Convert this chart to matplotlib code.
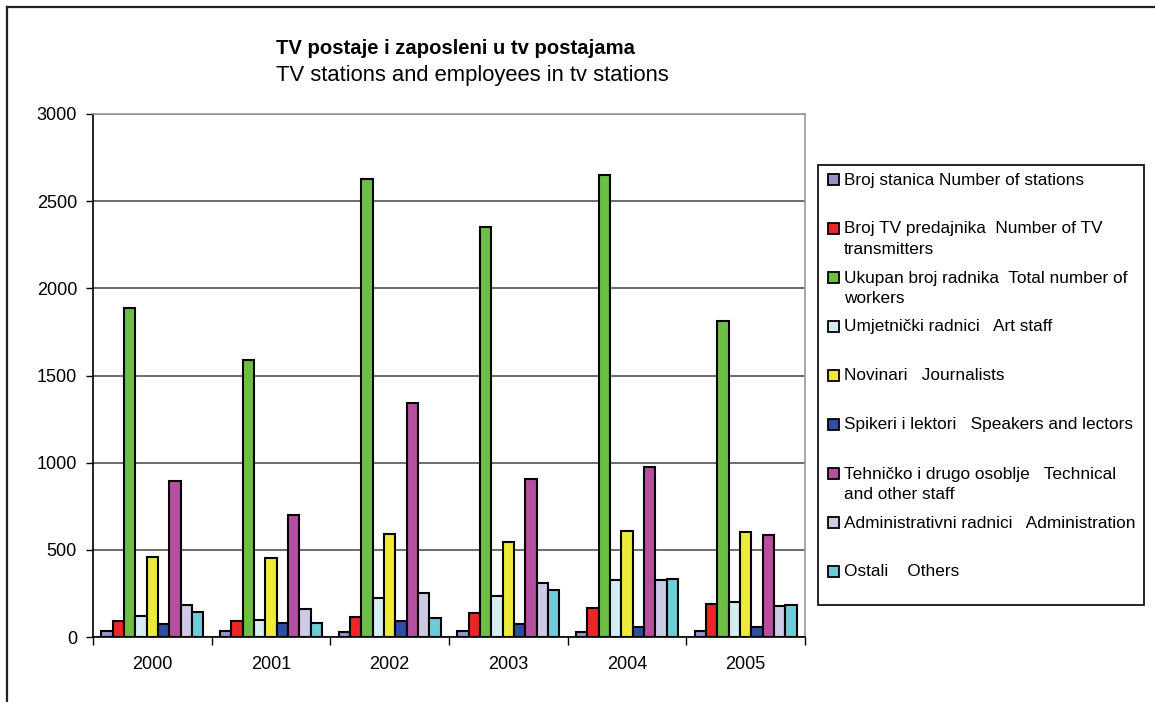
import numpy as np
import matplotlib.pyplot as plt
from matplotlib.patches import Rectangle
from matplotlib.lines import Line2D

plt.rcParams['font.family'] = ['Liberation Sans', 'DejaVu Sans']

# Data
years = ['2000', '2001', '2002', '2003', '2004', '2005']
series_labels = [
    'Broj stanica Number of stations',
    'Broj TV predajnika  Number of TV\ntransmitters',
    'Ukupan broj radnika  Total number of\nworkers',
    'Umjetnički radnici   Art staff',
    'Novinari   Journalists',
    'Spikeri i lektori   Speakers and lectors',
    'Tehničko i drugo osoblje   Technical\nand other staff',
    'Administrativni radnici   Administration',
    'Ostali    Others',
]
stations = [34, 34, 29, 34, 31, 33]
transmitters = [94, 94, 113, 138, 168, 189]
total_workers = [1890, 1590, 2625, 2350, 2650, 1810]
art_staff = [122, 95, 226, 235, 327, 200]
journalists = [461, 455, 593, 545, 608, 603]
speakers = [76, 80, 90, 73, 59, 58]
technical = [896, 702, 1342, 905, 976, 585]
administration = [182, 163, 253, 312, 327, 175]
others = [144, 82, 107, 272, 335, 183]

series = [stations, transmitters, total_workers, art_staff, journalists,
          speakers, technical, administration, others]
colors = ['#9494CC', '#EE2526', '#6CBE45', '#D3EEF3', '#EEEA3C',
          '#2E4EA2', '#B64FA0', '#CDCAE6', '#6ECCD9']

W, H = 1155, 702
fig = plt.figure(figsize=(W / 100, H / 100), dpi=100)

# outer frame (top and left only)
fig.add_artist(Line2D([7 / W, 1], [1 - 7 / H, 1 - 7 / H], color='#222222', lw=1.6))
fig.add_artist(Line2D([7 / W, 7 / W], [0, 1 - 7 / H], color='#222222', lw=1.6))

ax = fig.add_axes([93 / W, 1 - 637 / H, 712 / W, 523 / H])

n = len(series)
group = 0.862
bw = group / n
x = np.arange(len(years))
for i, (vals, c) in enumerate(zip(series, colors)):
    offs = -group / 2 + bw * (i + 0.5)
    ax.bar(x + offs, vals, width=bw, color=c, edgecolor='black', linewidth=1.5, zorder=3)

ax.set_xlim(-0.5, len(years) - 0.5)
ax.set_ylim(0, 3000)
ax.set_yticks(np.arange(0, 3001, 500))
ax.yaxis.grid(True, color='#444444', lw=1.1, zorder=0)
ax.tick_params(axis='y', direction='out', length=5, width=1, pad=6.5, labelsize=13)
ax.set_xticks(x)
ax.set_xticklabels(years)
ax.set_xticks(np.arange(-0.5, len(years), 1), minor=True)
ax.tick_params(axis='x', which='major', length=0, pad=14, labelsize=13)
ax.tick_params(axis='x', which='minor', direction='out', length=6, width=1)

for s in ['left', 'bottom']:
    ax.spines[s].set_color('black')
    ax.spines[s].set_linewidth(1.2)
for s in ['top', 'right']:
    ax.spines[s].set_color('#999999')
    ax.spines[s].set_linewidth(1.2)

# titles
fig.text(455 / W, 1 - 48 / H, 'TV postaje i zaposleni u tv postajama',
         ha='center', va='center', fontsize=14.6, fontweight='bold')
fig.text(472 / W, 1 - 76 / H, 'TV stations and employees in tv stations',
         ha='center', va='center', fontsize=15.8)

# legend box
fig.add_artist(Rectangle((818 / W, 1 - 605 / H), 326 / W, 440 / H,
                         transform=fig.transFigure, facecolor='white',
                         edgecolor='black', lw=1.2))
for i, (lab, c) in enumerate(zip(series_labels, colors)):
    yc = 179.5 + 49 * i
    fig.add_artist(Rectangle((828 / W, 1 - (yc + 5.5) / H), 11 / W, 11 / H,
                             transform=fig.transFigure, facecolor=c,
                             edgecolor='black', lw=1.3))
    fig.text(844 / W, 1 - (yc - 7) / H, lab, ha='left', va='top',
             fontsize=12.4, linespacing=1.48)

fig.savefig('out.png', dpi=100)
